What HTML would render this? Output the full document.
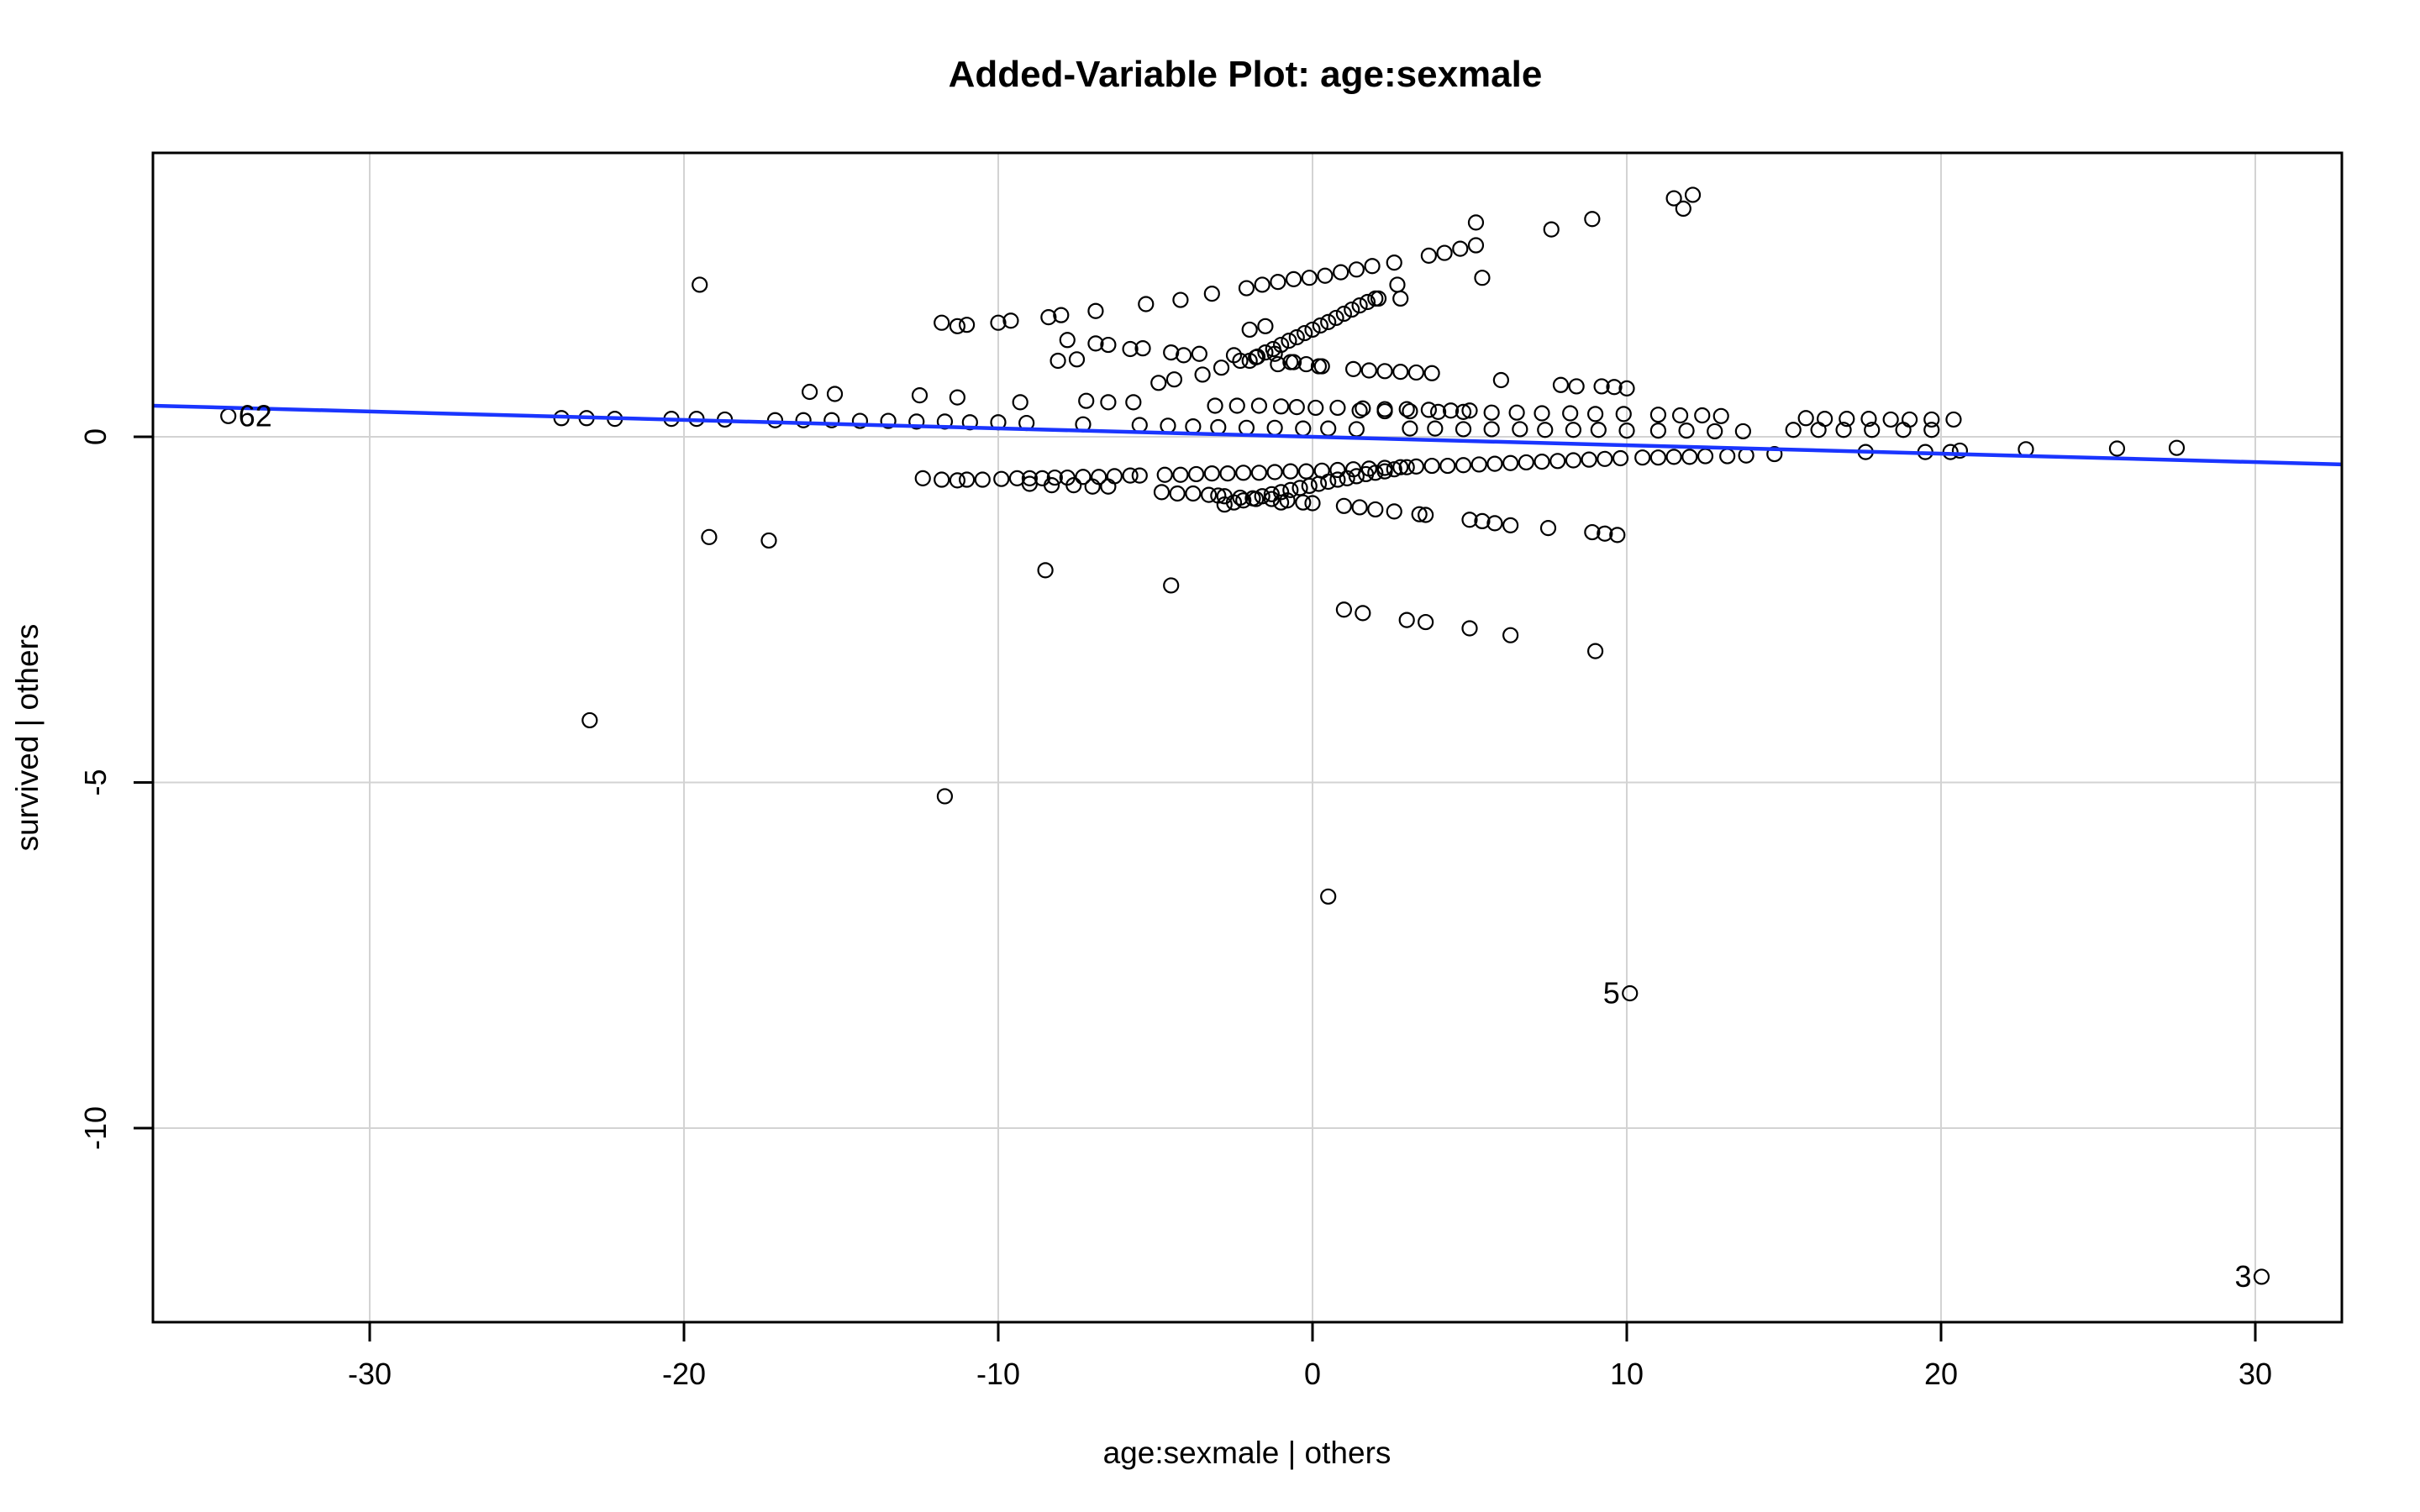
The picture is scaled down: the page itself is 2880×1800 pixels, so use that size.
<!DOCTYPE html>
<html><head><meta charset="utf-8"><title>Added-Variable Plot</title>
<style>html,body{margin:0;padding:0;background:#fff;}svg{display:block;font-family:"Liberation Sans",Arial,sans-serif;}</style>
</head><body>
<svg id="chart" width="2880" height="1800" viewBox="0 0 2880 1800" xmlns="http://www.w3.org/2000/svg">
<text x="1482" y="103" font-size="44" font-weight="bold" text-anchor="middle">Added-Variable Plot: age:sexmale</text>
<text x="1484" y="1742" font-size="37" text-anchor="middle">age:sexmale | others</text>
<text transform="translate(45,878) rotate(-90)" font-size="37" text-anchor="middle">survived  | others</text>
<g id="grid"></g>
<g id="ticks"></g>
<g id="pts"></g>
<g id="fit"></g>
<g id="lbls"></g>
<rect x="182" y="182" width="2605" height="1392" fill="none" stroke="#000" stroke-width="3"/>
</svg>
<script>
const xTicks=[-30,-20,-10,0,10,20,30];
const yTicks=[0,-5,-10];
const fitIntercept=0.0;
const fitSlope=-0.0122;
const labelNames=["62","5","3"];
const labelX=[-34.5,10.1,30.2];
const labelY=[0.3,-8.05,-12.15];
const px=[-34.5,-23.9,-23.1,-22.2,-20.4,-19.6,-18.7,-17.1,-16.2,-15.3,-14.4,-13.5,-12.6,-11.7,-10.9,-10.0,-9.1,-7.3,-5.5,-4.6,-3.8,-3.0,-2.1,-1.2,-0.3,0.5,1.4,
1.5,2.3,3.1,4.0,4.8,5.7,6.5,7.3,8.2,9.0,9.9,11.0,11.7,12.4,13.0,
3.1,3.9,4.8,5.7,6.6,7.4,8.3,9.1,10.0,11.0,11.9,12.8,13.7,15.3,16.1,16.9,17.8,18.8,19.7,
15.7,16.3,17.0,17.7,18.4,19.0,19.7,20.4,
17.6,19.5,20.3,20.6,22.7,25.6,27.5,
-12.4,-11.8,-11.3,-11.0,-10.5,-9.9,-9.4,-9.0,-8.6,-8.2,-7.8,-7.3,-6.8,-6.3,-5.8,-5.5,-4.7,-4.2,-3.7,-3.2,-2.7,-2.2,-1.7,-1.2,-0.7,-0.2,0.3,0.8,1.3,1.8,2.3,2.8,3.3,3.8,4.3,4.8,5.3,5.8,6.3,6.8,7.3,7.8,8.3,8.8,9.3,9.8,10.5,11.0,11.5,12.0,12.5,13.2,13.8,14.7,
-9.0,-8.3,-7.6,-7.0,-6.5,-4.8,-4.3,-3.8,-3.3,-2.8,-2.3,-1.8,-1.3,-0.8,-0.3,
-2.8,-2.5,-2.2,-1.9,-1.6,-1.3,-1.0,-0.7,-0.4,-0.1,0.2,0.5,0.8,1.1,1.4,1.7,2.0,2.3,2.6,3.0,
-3.0,-1.0,0.0,1.0,1.5,2.0,2.6,3.4,3.6,5.0,5.4,5.8,6.3,7.5,8.9,9.3,9.7,
-2.0,-1.75,-1.5,-1.25,-1.0,-0.75,-0.5,-0.25,0.0,0.25,0.5,0.75,1.0,1.25,1.5,1.75,2.0,
-11.8,-11.3,-11.0,-10.0,-9.6,-8.4,-8.0,-6.9,-5.3,-4.2,-3.2,-2.1,-1.6,-1.1,-0.6,-0.1,0.4,0.9,1.4,1.9,2.6,3.7,4.2,4.7,5.2,
-7.8,-8.1,-7.5,-6.9,-6.5,-5.8,-5.4,-4.5,-4.1,-3.6,-2.5,-2.0,-1.5,-1.1,-0.6,-0.2,0.3,
-4.9,-4.4,-3.5,-2.9,-2.3,-1.8,-1.2,-0.7,0.2,1.3,1.8,2.3,2.8,3.3,3.8,
-7.2,-6.5,-5.7,-3.1,-2.4,-1.7,-1.0,-0.5,0.1,0.8,1.6,2.3,3.0,3.7,4.4,5.0,
6.0,7.9,8.4,9.2,9.6,10.0,
2.7,2.8,2.1,
-16.0,-15.2,-12.5,-11.3,-9.3,
-19.5,-23.0,-11.7,0.5,10.1,30.2,-19.2,-17.3,-8.5,-4.5,1.0,1.6,3.0,3.6,5.0,6.3,9.0,
11.5,11.8,12.1,8.9,7.6,5.2,5.4];
const py=[0.3,0.27,0.27,0.26,0.26,0.26,0.25,0.24,0.24,0.24,0.23,0.23,0.22,0.22,0.21,0.21,0.2,0.18,0.17,0.16,0.15,0.14,0.13,0.13,0.12,0.12,0.11,
0.38,0.37,0.37,0.36,0.36,0.35,0.35,0.34,0.34,0.33,0.33,0.32,0.31,0.31,0.3,
0.12,0.12,0.11,0.11,0.11,0.1,0.1,0.1,0.09,0.09,0.09,0.08,0.08,0.1,0.1,0.1,0.1,0.1,0.1,
0.27,0.26,0.26,0.26,0.25,0.25,0.25,0.25,
-0.22,-0.22,-0.22,-0.2,-0.18,-0.17,-0.16,
-0.6,-0.62,-0.63,-0.62,-0.62,-0.61,-0.6,-0.6,-0.6,-0.59,-0.59,-0.58,-0.58,-0.57,-0.56,-0.56,-0.55,-0.55,-0.54,-0.53,-0.53,-0.52,-0.52,-0.51,-0.5,-0.5,-0.49,-0.48,-0.47,-0.46,-0.45,-0.44,-0.43,-0.42,-0.42,-0.41,-0.4,-0.39,-0.38,-0.37,-0.36,-0.35,-0.34,-0.33,-0.32,-0.31,-0.3,-0.3,-0.29,-0.29,-0.28,-0.28,-0.27,-0.25,
-0.68,-0.7,-0.7,-0.72,-0.72,-0.8,-0.82,-0.82,-0.84,-0.86,-0.88,-0.9,-0.9,-0.92,-0.95,
-0.98,-0.95,-0.92,-0.89,-0.86,-0.83,-0.8,-0.77,-0.74,-0.71,-0.68,-0.65,-0.62,-0.6,-0.57,-0.54,-0.52,-0.5,-0.47,-0.44,
-0.85,-0.95,-0.96,-1.0,-1.02,-1.05,-1.08,-1.12,-1.13,-1.2,-1.22,-1.25,-1.28,-1.32,-1.38,-1.4,-1.42,
1.1,1.16,1.22,1.27,1.33,1.39,1.44,1.5,1.55,1.61,1.66,1.72,1.78,1.84,1.9,1.95,2.0,
1.65,1.6,1.62,1.65,1.68,1.73,1.76,1.82,1.92,1.98,2.07,2.15,2.2,2.24,2.28,2.3,2.33,2.38,2.42,2.47,2.52,2.62,2.66,2.72,2.77,
1.4,1.1,1.12,1.35,1.33,1.27,1.28,1.22,1.18,1.2,1.18,1.55,1.6,1.05,1.08,1.05,1.02,
0.78,0.83,0.9,1.0,1.1,1.15,1.2,1.08,1.02,0.98,0.96,0.95,0.94,0.93,0.92,
0.52,0.5,0.5,0.45,0.45,0.45,0.44,0.43,0.42,0.42,0.41,0.4,0.4,0.39,0.38,0.38,
0.82,0.75,0.73,0.73,0.72,0.7,
2.2,2.0,2.0,
0.65,0.62,0.6,0.57,0.5,
2.2,-4.1,-5.2,-6.65,-8.05,-12.15,-1.45,-1.5,-1.93,-2.15,-2.5,-2.55,-2.65,-2.68,-2.77,-2.87,-3.1,
3.45,3.3,3.5,3.15,3.0,3.1,2.3];
const NS='http://www.w3.org/2000/svg';
const L=182,R=2787,T=182,B=1574;
function sx(v){return 1562+v*37.4;}
function sy(v){return 520-v*82.3;}
function mk(tag,attrs,parent){const e=document.createElementNS(NS,tag);for(const k in attrs)e.setAttribute(k,attrs[k]);parent.appendChild(e);return e;}
const grid=document.getElementById('grid'),ticks=document.getElementById('ticks');
xTicks.forEach(t=>{
  const g=mk('line',{x1:sx(t),x2:sx(t),y1:T,y2:B,stroke:'#d3d3d3','stroke-width':2},grid);
  
  
  const tk=mk('line',{x1:sx(t),x2:sx(t),y1:B,y2:B+23,stroke:'#000','stroke-width':3},ticks);
  
  
  const tx=mk('text',{x:sx(t),y:1648,'font-size':36,'text-anchor':'middle'},ticks);
  tx.textContent=String(t);
  
  
});
yTicks.forEach(t=>{
  const g=mk('line',{x1:L,x2:R,y1:sy(t),y2:sy(t),stroke:'#d3d3d3','stroke-width':2},grid);
  
  
  const tk=mk('line',{x1:L-23,x2:L,y1:sy(t),y2:sy(t),stroke:'#000','stroke-width':3},ticks);
  
  
  const tx=mk('text',{transform:'translate(126,'+sy(t)+') rotate(-90)','font-size':36,'text-anchor':'middle'},ticks);
  tx.textContent=String(t);
  
  
});
const pts=document.getElementById('pts');
for(let i=0;i<px.length;i++){
  const c=mk('circle',{cx:sx(px[i]),cy:sy(py[i]),r:8.5,fill:'none',stroke:'#000','stroke-width':2.2},pts);
  
  
}
const x0=(L-1562)/37.4,x1=(R-1562)/37.4;
const fl=mk('line',{x1:L,y1:sy(fitIntercept+fitSlope*x0),x2:R,y2:sy(fitIntercept+fitSlope*x1),stroke:'#1a35ff','stroke-width':4.5},document.getElementById('fit'));


const lb=document.getElementById('lbls');
labelNames.forEach((n,i)=>{
  const right=i===0;
  const t=mk('text',{x:sx(labelX[i])+(right?12:-12),y:sy(labelY[i])+12,'font-size':36,'text-anchor':right?'start':'end'},lb);
  t.textContent=n;
  
  
});
</script>
</body></html>
